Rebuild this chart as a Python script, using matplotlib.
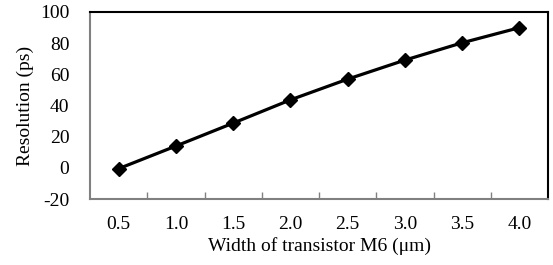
import numpy as np
import matplotlib.pyplot as plt

widths = ['0.5', '1.0', '1.5', '2.0', '2.5', '3.0', '3.5', '4.0']
resolution = [-0.5, 14.0, 28.7, 43.6, 56.9, 69.1, 80.2, 89.9]
yticks = [-20, 0, 20, 40, 60, 80, 100]

plt.rcParams['font.family'] = ['Liberation Serif', 'DejaVu Serif']
plt.rcParams['font.size'] = 14
plt.rcParams['axes.unicode_minus'] = False

fig = plt.figure(figsize = (5.53, 2.65), dpi = 100)
ax = fig.add_axes([0.163, 0.249, 0.828, 0.706])

x = np.arange(len(widths))
ax.plot(x, resolution, color = 'black', linewidth = 2.3, marker = 'D', markersize = 7.5)

ax.set_xlim(-0.5, len(widths) - 0.5)
ax.set_ylim(-20, 100)
ax.set_yticks(yticks)
ax.set_xticks(x)
ax.set_xticklabels(widths)
ax.set_xticks(np.arange(len(widths) - 1) + 0.5, minor = True)
ax.tick_params(axis = 'x', which = 'major', length = 0, pad = 12)
ax.tick_params(axis = 'x', which = 'minor', direction = 'in', length = 5, width = 1, color = '#808080')
ax.tick_params(axis = 'y', length = 0, pad = 15)

for side in ['left', 'bottom']:
    ax.spines[side].set_color('#808080')
    ax.spines[side].set_linewidth(1.5)
for side in ['top', 'right']:
    ax.spines[side].set_color('black')
    ax.spines[side].set_linewidth(1.5)

ax.set_xlabel('Width of transistor M6 (μm)', labelpad = 3)
ax.set_ylabel('Resolution (ps)', labelpad = 4)

fig.savefig('out.png')
